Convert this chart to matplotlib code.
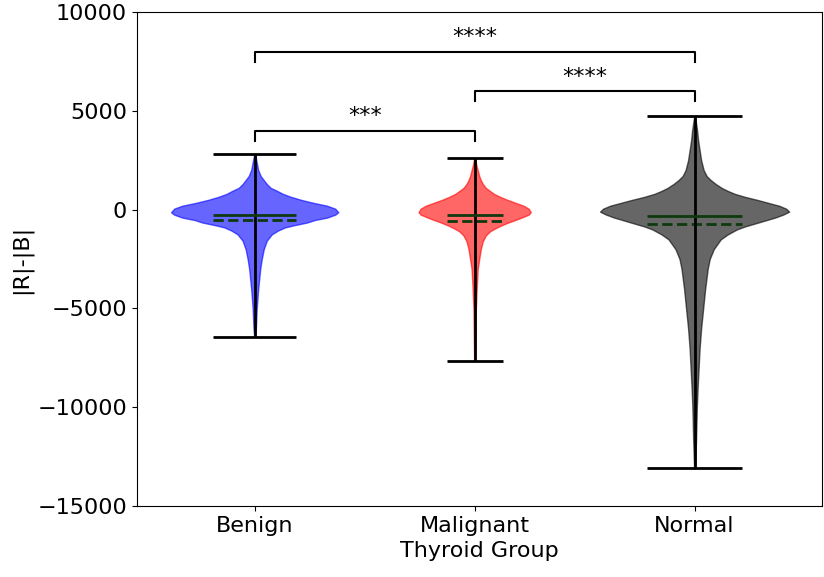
"""
Violin plot |R|-|B| por grupo tiroideo
"""
import numpy as np
import matplotlib.pyplot as plt

groups = ["Benign", "Malignant", "Normal"]
colors = ["blue", "red", "black"]

# perfiles de densidad (valor, semi-ancho relativo)
benign_y = [2800, 2400, 2000, 1700, 1500, 1300, 1100, 960, 800, 650, 500,
            350, 200, 50, -130, -250, -400, -520, -650, -800, -900, -1060,
            -1250, -1570, -2000, -2500, -3000, -4000, -5000, -6000, -6400]
benign_w = [0.5, 2, 3.5, 6, 9, 12, 16, 22, 28, 36, 46, 58, 72, 80, 83, 80,
            72, 60, 52, 38, 30, 23, 17, 12, 9, 7, 5.5, 3.5, 2, 1.2, 0.5]

malig_y = [2600, 2300, 2000, 1700, 1500, 1300, 1100, 950, 800, 650, 500,
           350, 200, 50, -130, -250, -400, -520, -650, -800, -950, -1100,
           -1300, -1600, -2000, -2500, -3000, -4000, -5000, -6500, -7600]
malig_w = [0.5, 1.5, 3, 4.5, 6, 8, 11, 15, 19, 25, 32, 40, 48, 53, 55, 53,
           46, 40, 33, 26, 20, 15, 11, 8, 6, 4.5, 3, 2, 1.2, 0.8, 0.5]

normal_y = [4700, 4000, 3500, 3000, 2500, 2000, 1700, 1500, 1300, 1100, 950,
            800, 650, 500, 350, 200, 50, -100, -250, -400, -550, -700, -850,
            -1000, -1250, -1500, -2000, -2500, -3000, -4000, -5000, -6000,
            -7000, -8000, -9000, -10000, -11500, -13100]
normal_w = [0.5, 2.5, 3.5, 5, 6.5, 9, 12, 16, 21, 27, 33, 40, 50, 62, 73,
            84, 91, 94, 88, 80, 70, 60, 50, 42, 33, 26, 19, 15, 13, 10.5,
            8.5, 6.5, 5, 4, 3, 2.2, 1.5, 0.5]

mins = [-6430, -7640, -13100]
maxs = [2830, 2630, 4760]
medians = [-250, -250, -340]
means = [-500, -560, -740]
widths = [0.76, 0.51, 0.86]

# anotaciones de significancia: (x1, x2, altura, texto)
brackets = [(1, 2, 4000, "***"), (2, 3, 6000, "****"), (1, 3, 8000, "****")]

plt.rcParams["font.size"] = 16

fig = plt.figure(figsize=(8.24, 5.77), dpi=100)
ax = fig.add_axes([0.166, 0.123, 0.831, 0.856])

profiles = [(benign_y, benign_w), (malig_y, malig_w), (normal_y, normal_w)]
stats = []
for k, (yy, ww) in enumerate(profiles):
    stats.append({"coords": np.array(yy, dtype=float),
                  "vals": np.array(ww, dtype=float),
                  "mean": means[k], "median": medians[k],
                  "min": mins[k], "max": maxs[k]})

parts = ax.violin(stats, positions=[1, 2, 3], widths=widths,
                  showmeans=True, showmedians=True, showextrema=True)

for body, c in zip(parts["bodies"], colors):
    body.set_facecolor(c)
    body.set_edgecolor(c)
    body.set_alpha(0.6)

for key in ["cbars", "cmins", "cmaxes"]:
    parts[key].set_color("black")
    parts[key].set_linewidth(2)

parts["cmedians"].set_color("#0f3a0f")
parts["cmedians"].set_linewidth(2)
parts["cmeans"].set_color("#0f3a0f")
parts["cmeans"].set_linewidth(2)
parts["cmeans"].set_linestyle("--")

for x1, x2, h, txt in brackets:
    ax.plot([x1, x1, x2, x2], [h - 500, h, h, h - 500], color="black", lw=1.5)
    ax.text((x1 + x2) / 2, h + 220, txt, ha="center", va="bottom", fontsize=16)

ax.set_xlim(0.464, 3.577)
ax.set_ylim(-15000, 10000)
ax.set_xticks([1, 2, 3])
ax.set_xticklabels(groups)
ax.set_yticks([-15000, -10000, -5000, 0, 5000, 10000])
ax.set_xlabel("Thyroid Group")
ax.set_ylabel("|R|-|B|")

fig.savefig("out.png", dpi=100)
